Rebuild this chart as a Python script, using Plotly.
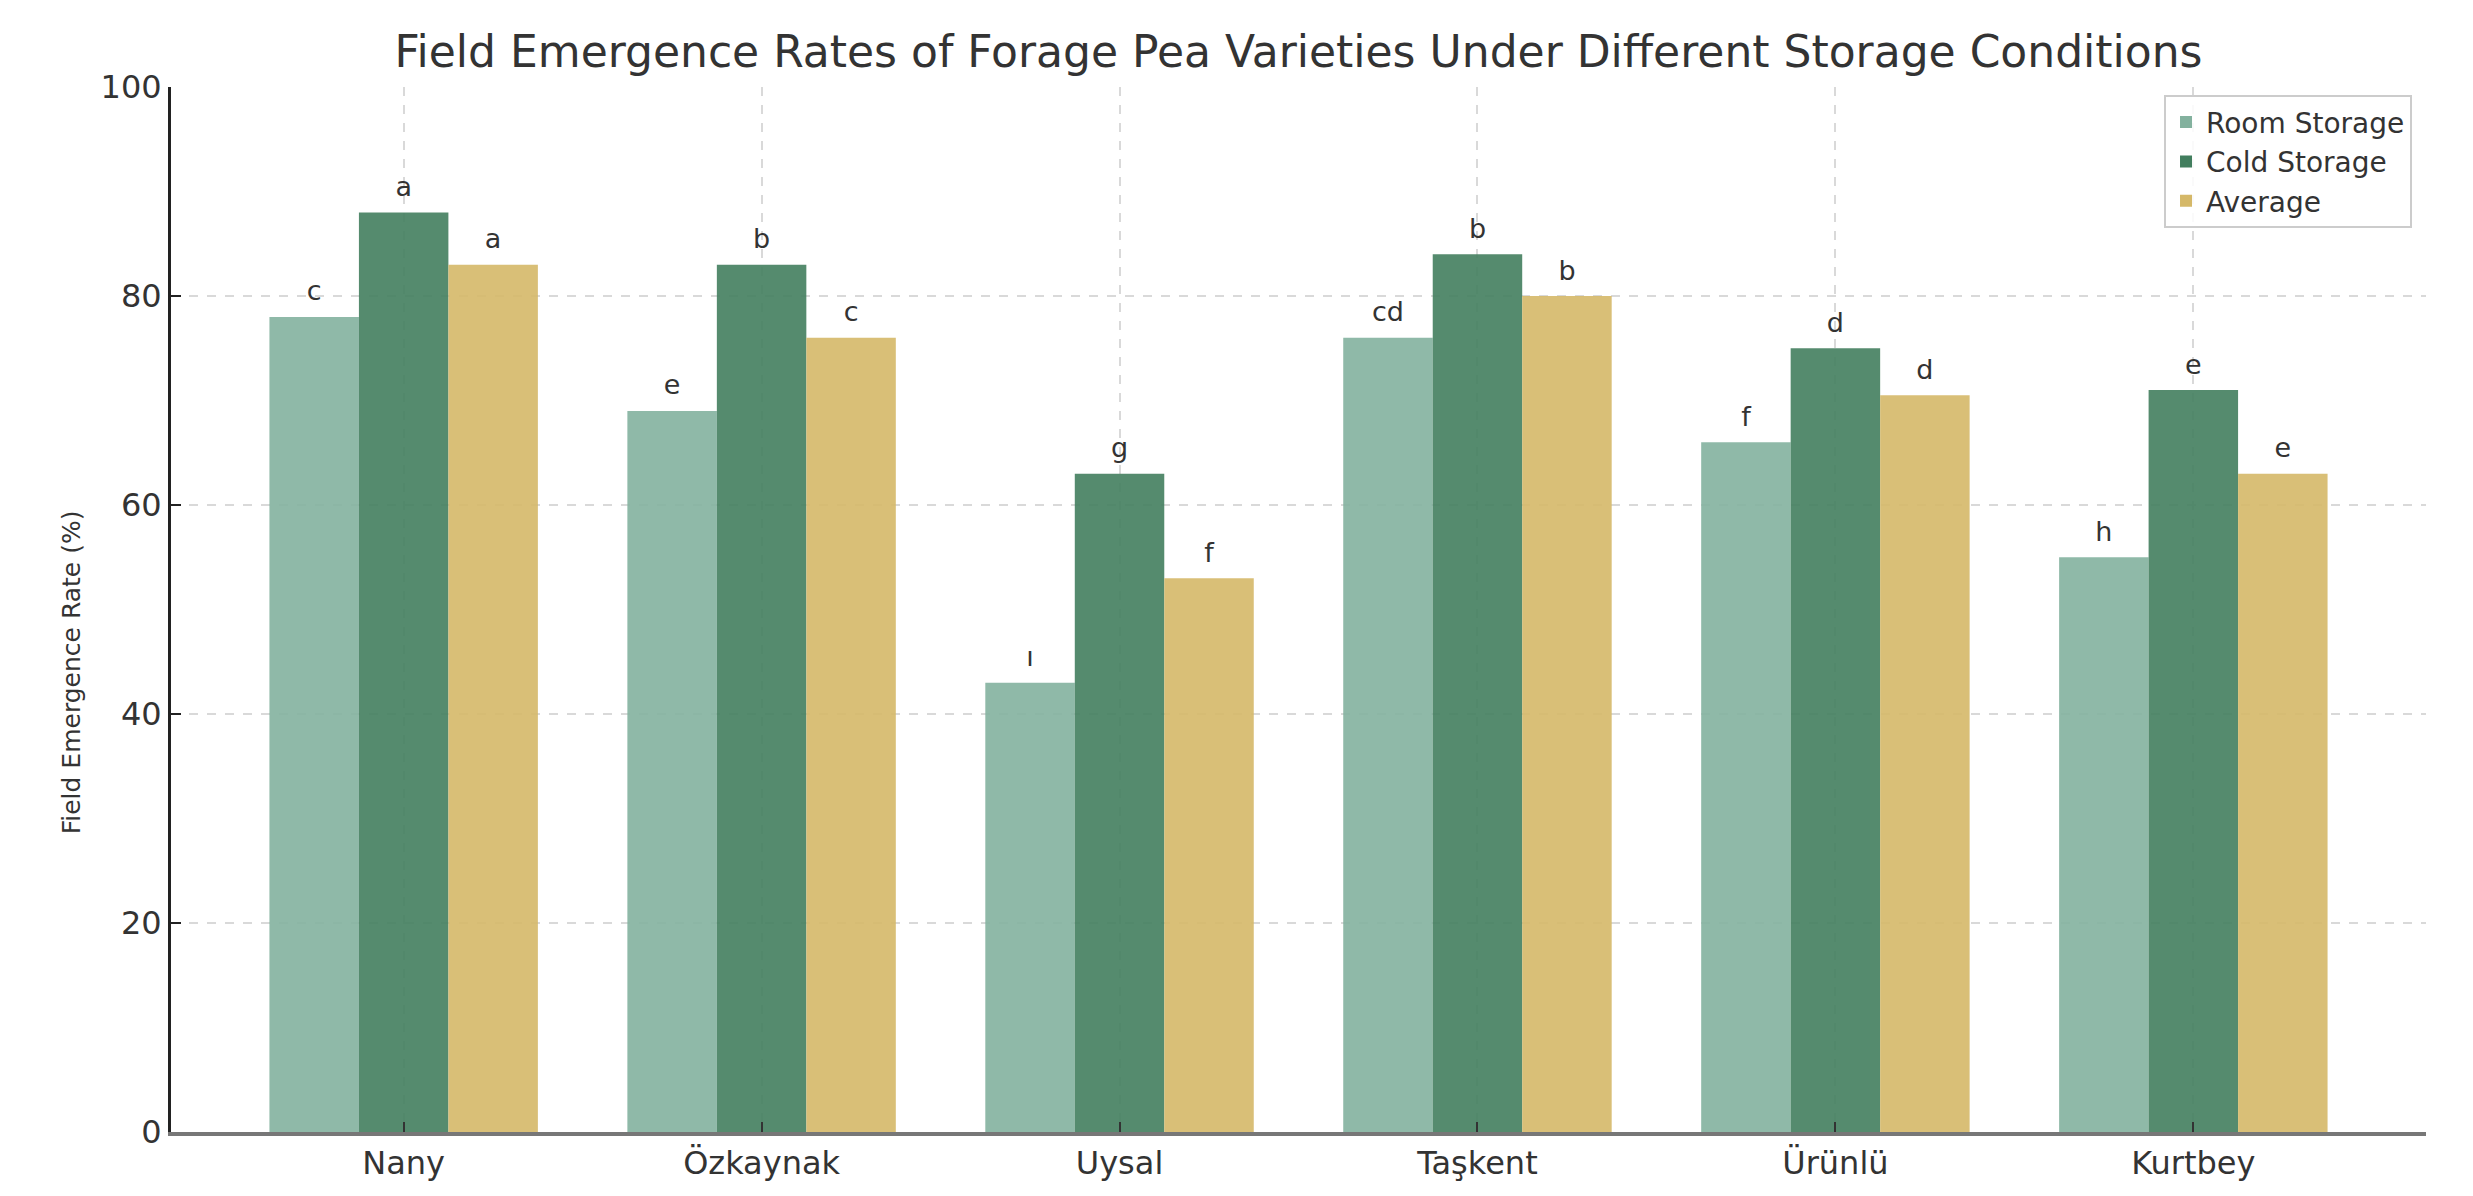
import plotly.graph_objects as go

varieties = ["Nany", "Özkaynak", "Uysal", "Taşkent", "Ürünlü", "Kurtbey"]
room = [78, 69, 43, 76, 66, 55]
cold = [88, 83, 63, 84, 75, 71]
average = [83, 76, 53, 80, 70.5, 63]
room_letters = ["c", "e", "ı", "cd", "f", "h"]
cold_letters = ["a", "b", "g", "b", "d", "e"]
avg_letters = ["a", "c", "f", "b", "d", "e"]
y_ticks = [0, 20, 40, 60, 80, 100]

FONT = "DejaVu Sans"
TXT = "#333333"

fig = go.Figure()
series = [
    ("Room Storage", room, room_letters, "#83B19E"),
    ("Cold Storage", cold, cold_letters, "#427E5E"),
    ("Average", average, avg_letters, "#D5B868"),
]
for i, (name, vals, letters, col) in enumerate(series):
    fig.add_trace(go.Bar(
        name=name, x=varieties, y=vals, offsetgroup=str(i),
        marker=dict(color=col, opacity=0.9, line=dict(width=0)),
    ))
for i, (name, vals, letters, col) in enumerate(series):
    fig.add_trace(go.Scatter(
        x=varieties, y=vals, text=letters, mode="markers+text", offsetgroup=str(i),
        textposition="top center", showlegend=False, hoverinfo="skip", cliponaxis=False,
        marker=dict(size=14, opacity=0),
        textfont=dict(family=FONT, size=27, color=TXT),
    ))

fig.update_layout(
    width=2473, height=1196,
    margin=dict(l=163, r=55, t=79, b=72),
    paper_bgcolor="white", plot_bgcolor="white",
    barmode="group", bargap=0.25, bargroupgap=0,
    scattermode="group", scattergap=0.25,
    font=dict(family=FONT, color=TXT),
    title=dict(text="Field Emergence Rates of Forage Pea Varieties Under Different Storage Conditions",
               x=0.5, xref="paper", xanchor="center", y=1 - 44 / 1196, yref="container", yanchor="middle",
               font=dict(family=FONT, size=44, color=TXT)),
    legend=dict(x=0.9938, y=0.992, xanchor="right", yanchor="top",
                bgcolor="rgba(255,255,255,0.85)", bordercolor="#cccccc", borderwidth=2,
                font=dict(family=FONT, size=28, color=TXT)),
    annotations=[dict(text="Field Emergence Rate (%)", textangle=-90, showarrow=False,
                      xref="paper", yref="paper", x=-0.0443, y=0.44, xanchor="center", yanchor="middle",
                      font=dict(family=FONT, size=25, color=TXT))],
)
fig.update_xaxes(
    range=[-0.65, 5.65], showgrid=True, gridcolor="#d9d9d9", griddash="dash", gridwidth=1.5,
    showline=True, linecolor="#777777", linewidth=4, ticks="inside", ticklen=10, tickcolor="#333333",
    tickwidth=2, tickfont=dict(family=FONT, size=32, color=TXT), zeroline=False,
)
fig.update_yaxes(
    range=[0, 100], tickvals=y_ticks, showgrid=True, gridcolor="#d9d9d9", griddash="dash", gridwidth=1.5,
    showline=True, linecolor="#222222", linewidth=3, ticks="inside", ticklen=10, tickcolor="#222222",
    tickwidth=2, tickfont=dict(family=FONT, size=32, color=TXT), zeroline=False,
)
fig.write_html("out.html")
